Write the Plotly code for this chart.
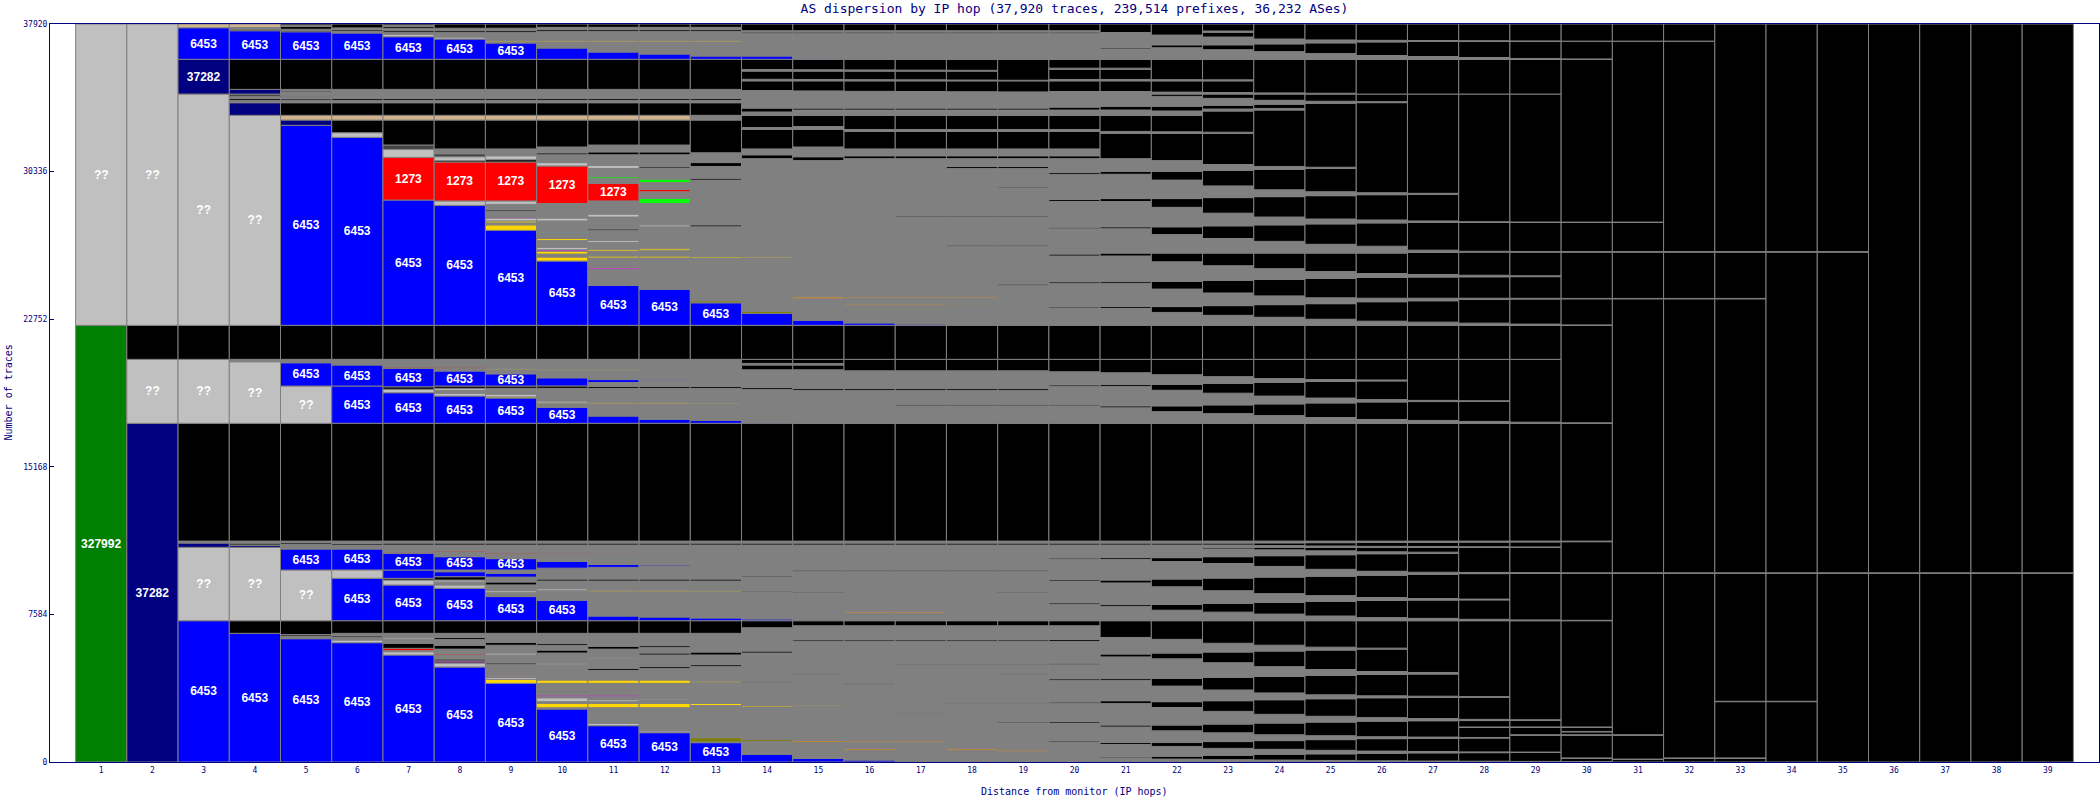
import plotly.graph_objects as go

# ---------------- data ----------------
hops = list(range(1, 40))
y_ticks = [0, 7584, 15168, 22752, 30336, 37920]
y_max = 37920
title_text = "AS dispersion by IP hop (37,920 traces, 239,514 prefixes, 36,232 ASes)"
x_title = "Distance from monitor (IP hops)"
y_title = "Number of traces"

palette = {
    'G': '#008000', 'N': '#000080', 'B': '#0000FF', 'Q': '#C0C0C0', 'K': '#000000',
    'D': '#808080', 'S': '#404040', 'R': '#FF0000', 'Y': '#FFD700', 'T': '#D2B48C',
    'O': '#FF8C00', 'L': '#00FF00', 'M': '#FF00FF', 'C': '#00FFFF', 'V': '#808000',
    'P': '#800080',
}

# each hop: list of (upper edge in traces, colour key[, AS label]) from bottom to top
hop01 = [(22437, 'G', '327992'), (37920, 'Q', '??')]
hop02 = [(17403, 'N', '37282'), (20690, 'Q', '??'), (22437, 'K'), (37920, 'Q', '??')]
hop03 = [(7260, 'B', '6453'), (11031, 'Q', '??'), (11252, 'N'), (11350, 'D'), (17403, 'K'),
         (20690, 'Q', '??'), (22437, 'K'), (34320, 'Q', '??'), (36105, 'N', '37282'),
         (37728, 'B', '6453'), (37920, 'T')]
hop04 = [(6611, 'B', '6453'), (7260, 'K'), (11031, 'Q', '??'), (11130, 'N'), (11250, 'S'), (11350, 'D'),
         (17403, 'K'), (20566, 'Q', '??'), (20690, 'D'), (22437, 'K'), (33228, 'Q', '??'), (33875, 'N'),
         (34000, 'D'), (34100, 'K'), (34200, 'D'), (34320, 'S'), (34560, 'N'), (36105, 'K'),
         (37574, 'B', '6453'), (37650, 'K'), (37740, 'D'), (37920, 'T')]
hop05 = [(6336, 'B', '6453'), (6450, 'D'), (6550, 'S'), (7260, 'K'), (9865, 'Q', '??'), (10944, 'B', '6453'),
         (11031, 'D'), (11200, 'D'), (11280, 'K'), (11350, 'D'), (17403, 'K'), (19318, 'Q', '??'),
         (20514, 'B', '6453'), (20690, 'D'), (22437, 'K'), (32713, 'B', '6453'), (32984, 'N'), (33228, 'T'),
         (33875, 'K'), (34000, 'D'), (34080, 'K'), (34200, 'D'), (34250, 'K'), (34320, 'D'), (34420, 'D'),
         (34480, 'K'), (34560, 'D'), (36105, 'K'), (37522, 'B', '6453'), (37600, 'K'), (37650, 'D'),
         (37800, 'K'), (37850, 'D'), (37920, 'K')]
hop06 = [(6130, 'B', '6453'), (6268, 'Q'), (6400, 'D'), (6480, 'K'), (6611, 'D'), (7260, 'K'),
         (9440, 'B', '6453'), (9870, 'Q'), (10944, 'B', '6453'), (11031, 'D'), (11150, 'D'), (11230, 'K'),
         (11350, 'D'), (17403, 'K'), (19318, 'B', '6453'), (20400, 'B', '6453'), (20690, 'D'), (22437, 'K'),
         (32096, 'B', '6453'), (32334, 'Q'), (32984, 'K'), (33228, 'T'), (33875, 'K'), (34000, 'D'),
         (34100, 'K'), (34320, 'D'), (34560, 'D'), (36105, 'K'), (37456, 'B', '6453'), (37560, 'D'),
         (37640, 'K'), (37720, 'D'), (37920, 'K')]
hop07 = [(5498, 'B', '6453'), (5667, 'Q'), (5720, 'D'), (5840, 'R'), (6100, 'K'), (6300, 'D'), (6380, 'Q'),
         (6611, 'D'), (7260, 'K'), (9094, 'B', '6453'), (9350, 'Q'), (9438, 'K'), (9865, 'B'),
         (10723, 'B', '6453'), (10780, 'R'), (11031, 'D'), (11150, 'D'), (11250, 'K'), (11350, 'D'),
         (17403, 'K'), (18975, 'B', '6453'), (19150, 'Q'), (19280, 'K'), (20228, 'B', '6453'), (20290, 'R'),
         (20690, 'D'), (22437, 'K'), (28874, 'B', '6453'), (31066, 'R', '1273'), (31480, 'Q'), (31701, 'S'),
         (32984, 'K'), (33228, 'T'), (33875, 'K'), (34000, 'D'), (34100, 'K'), (34320, 'D'), (34450, 'D'),
         (34500, 'K'), (34560, 'D'), (36105, 'K'), (37266, 'B', '6453'), (37389, 'Q'), (37500, 'D'),
         (37600, 'K'), (37700, 'D'), (37800, 'K'), (37850, 'D'), (37920, 'K')]
hop08 = [(4880, 'B', '6453'), (5087, 'Q'), (5190, 'P'), (5300, 'S'), (5500, 'D'), (5560, 'R'), (5800, 'D'),
         (6000, 'K'), (6300, 'D'), (6400, 'K'), (6611, 'D'), (7260, 'K'), (8925, 'B', '6453'), (9100, 'Q'),
         (9250, 'D'), (9350, 'Q'), (9520, 'K'), (9778, 'B'), (9865, 'D'), (10550, 'B', '6453'), (10800, 'D'),
         (10860, 'R'), (11031, 'D'), (11150, 'D'), (11250, 'K'), (11350, 'D'), (17403, 'K'),
         (18805, 'B', '6453'), (18950, 'Q'), (19100, 'D'), (19200, 'Q'), (19318, 'K'), (20089, 'B', '6453'),
         (20230, 'D'), (20290, 'R'), (20690, 'D'), (22437, 'K'), (28600, 'B', '6453'), (28830, 'Q'),
         (30828, 'R', '1273'), (30900, 'K'), (31100, 'Q'), (31250, 'S'), (31500, 'D'), (32984, 'K'),
         (33228, 'T'), (33875, 'K'), (34000, 'D'), (34100, 'K'), (34320, 'D'), (34450, 'D'), (34500, 'K'),
         (34560, 'D'), (36105, 'K'), (37148, 'B', '6453'), (37250, 'Q'), (37500, 'D'), (37600, 'K'),
         (37700, 'D'), (37920, 'K')]
hop09 = [(4043, 'B', '6453'), (4250, 'Y'), (4350, 'Q'), (4400, 'M'), (4700, 'D'), (4760, 'R'), (5000, 'D'),
         (5100, 'S'), (5500, 'D'), (5600, 'Q'), (6000, 'D'), (6150, 'K'), (6611, 'D'), (7260, 'K'),
         (8500, 'B', '6453'), (8700, 'D'), (8800, 'Q'), (9100, 'D'), (9250, 'K'), (9500, 'D'), (9700, 'B'),
         (9865, 'D'), (10450, 'B', '6453'), (10700, 'D'), (10760, 'R'), (11031, 'D'), (11150, 'D'),
         (11250, 'K'), (11350, 'D'), (17403, 'K'), (18700, 'B', '6453'), (18760, 'Y'), (18900, 'Q'),
         (19200, 'D'), (19318, 'K'), (19945, 'B', '6453'), (20150, 'D'), (20200, 'Y'), (20690, 'D'),
         (22437, 'K'), (27318, 'B', '6453'), (27600, 'Y'), (27700, 'D'), (27800, 'Y'), (27950, 'Q'),
         (28000, 'M'), (28300, 'D'), (28400, 'S'), (28650, 'D'), (28830, 'Q'), (30828, 'R', '1273'),
         (30950, 'K'), (31150, 'Q'), (31500, 'D'), (32984, 'K'), (33228, 'T'), (33875, 'K'), (34000, 'D'),
         (34100, 'K'), (34320, 'D'), (34450, 'D'), (34500, 'K'), (34560, 'D'), (36105, 'K'),
         (36942, 'B', '6453'), (37000, 'D'), (37060, 'Y'), (37500, 'D'), (37600, 'K'), (37700, 'D'),
         (37920, 'K')]
hop10 = [(2723, 'B', '6453'), (2790, 'D'), (3016, 'Y'), (3100, 'D'), (3300, 'Q'), (3355, 'D'), (3440, 'M'),
         (3600, 'D'), (3650, 'S'), (4040, 'D'), (4213, 'Y'), (4600, 'D'), (4650, 'R'), (5000, 'D'),
         (5080, 'Q'), (5600, 'D'), (5750, 'K'), (6000, 'D'), (6100, 'K'), (6611, 'D'), (7260, 'K'),
         (8313, 'B', '6453'), (8500, 'D'), (8560, 'Y'), (8800, 'D'), (8900, 'Q'), (9300, 'D'), (9400, 'K'),
         (9960, 'D'), (10306, 'B'), (10700, 'D'), (10750, 'R'), (11031, 'D'), (11150, 'D'), (11250, 'K'),
         (11350, 'D'), (17403, 'K'), (18224, 'B', '6453'), (18400, 'D'), (18450, 'Y'), (18550, 'Q'),
         (19200, 'D'), (19324, 'K'), (19740, 'B'), (20100, 'D'), (20150, 'Y'), (20690, 'D'), (22437, 'K'),
         (25740, 'B', '6453'), (25950, 'Y'), (26100, 'D'), (26250, 'Y'), (26320, 'M'), (26450, 'Q'),
         (26800, 'D'), (26900, 'Y'), (27200, 'D'), (27250, 'C'), (27800, 'D'), (27950, 'Q'), (28696, 'D'),
         (30622, 'R', '1273'), (30800, 'Q'), (31200, 'D'), (31300, 'K'), (31600, 'D'), (32984, 'K'),
         (33228, 'T'), (33875, 'K'), (34000, 'D'), (34100, 'K'), (34320, 'D'), (34450, 'D'), (34500, 'K'),
         (34560, 'D'), (36105, 'K'), (36685, 'B'), (37000, 'D'), (37060, 'Y'), (37550, 'D'), (37650, 'K'),
         (37750, 'D'), (37920, 'K')]
hop11 = [(1866, 'B', '6453'), (1990, 'Q'), (2030, 'D'), (2080, 'M'), (2130, 'D'), (2180, 'C'), (2390, 'D'),
         (2440, 'S'), (2790, 'D'), (3016, 'Y'), (3100, 'D'), (3200, 'Q'), (3355, 'D'), (3440, 'M'),
         (4040, 'D'), (4213, 'Y'), (4700, 'D'), (4800, 'K'), (5300, 'D'), (5350, 'Q'), (5800, 'D'),
         (5950, 'K'), (6611, 'D'), (7260, 'K'), (7500, 'B'), (8400, 'D'), (8460, 'M'), (8750, 'D'),
         (8830, 'Y'), (9300, 'D'), (9400, 'K'), (10000, 'D'), (10150, 'B'), (10700, 'D'), (10740, 'R'),
         (11031, 'D'), (11150, 'D'), (11250, 'K'), (11350, 'D'), (17403, 'K'), (17775, 'B'), (18400, 'D'),
         (18460, 'Y'), (19200, 'D'), (19300, 'K'), (19500, 'D'), (19650, 'B'), (20100, 'D'), (20150, 'Y'),
         (20690, 'D'), (22437, 'K'), (24488, 'B', '6453'), (25300, 'D'), (25390, 'M'), (25900, 'D'),
         (26000, 'Y'), (26250, 'D'), (26350, 'Y'), (26700, 'D'), (26800, 'Q'), (27300, 'D'), (27400, 'S'),
         (28000, 'D'), (28150, 'Q'), (28830, 'D'), (29730, 'R', '1273'), (30000, 'D'), (30080, 'L'),
         (30500, 'D'), (30650, 'Q'), (31200, 'D'), (31350, 'K'), (31700, 'D'), (32984, 'K'), (33228, 'T'),
         (33875, 'K'), (34000, 'D'), (34100, 'K'), (34320, 'D'), (34450, 'D'), (34500, 'K'), (34560, 'D'),
         (36105, 'K'), (36480, 'B'), (37000, 'D'), (37060, 'Y'), (37550, 'D'), (37650, 'K'), (37750, 'D'),
         (37920, 'K')]
hop12 = [(1507, 'B', '6453'), (1593, 'Q'), (2030, 'D'), (2080, 'M'), (2130, 'D'), (2180, 'C'), (2390, 'D'),
         (2440, 'S'), (2790, 'D'), (3016, 'Y'), (3200, 'D'), (3260, 'Q'), (4040, 'D'), (4213, 'Y'),
         (4800, 'D'), (4900, 'K'), (5500, 'D'), (5600, 'K'), (5900, 'D'), (6000, 'K'), (6611, 'D'),
         (7260, 'K'), (7450, 'B'), (8750, 'D'), (8830, 'Y'), (9300, 'D'), (9400, 'K'), (10050, 'D'),
         (10120, 'B'), (11031, 'D'), (11150, 'D'), (11250, 'K'), (11350, 'D'), (17403, 'K'), (17600, 'B'),
         (18400, 'D'), (18460, 'Y'), (19200, 'D'), (19300, 'K'), (19550, 'D'), (19620, 'B'), (20690, 'D'),
         (22437, 'K'), (24282, 'B', '6453'), (25300, 'D'), (25360, 'M'), (25900, 'D'), (26000, 'Y'),
         (26300, 'D'), (26400, 'Y'), (27500, 'D'), (27600, 'Q'), (28700, 'D'), (28963, 'L'), (29300, 'D'),
         (29420, 'R'), (29780, 'D'), (29950, 'L'), (30500, 'D'), (30600, 'S'), (31200, 'D'), (31350, 'K'),
         (31700, 'D'), (32984, 'K'), (33228, 'T'), (33875, 'K'), (34000, 'D'), (34100, 'K'), (34320, 'D'),
         (34450, 'D'), (34500, 'K'), (34560, 'D'), (36105, 'K'), (36377, 'B'), (37000, 'D'), (37060, 'Y'),
         (37550, 'D'), (37650, 'K'), (37750, 'D'), (37920, 'K')]
hop13 = [(993, 'B', '6453'), (1028, 'D'), (1249, 'V'), (2400, 'D'), (2440, 'S'), (2900, 'D'), (3016, 'Y'),
         (4100, 'D'), (4160, 'Y'), (4900, 'D'), (5000, 'K'), (5500, 'D'), (5650, 'K'), (6611, 'D'),
         (7260, 'K'), (7400, 'B'), (8750, 'D'), (8820, 'Y'), (9300, 'D'), (9400, 'K'), (11031, 'D'),
         (11150, 'D'), (11250, 'K'), (11350, 'D'), (17403, 'K'), (17550, 'B'), (18400, 'D'), (18450, 'Y'),
         (19200, 'D'), (19300, 'K'), (20690, 'D'), (22437, 'K'), (23594, 'B', '6453'), (23700, 'V'),
         (25900, 'D'), (25980, 'Y'), (27500, 'D'), (27600, 'K'), (28800, 'D'), (28850, 'L'), (29900, 'D'),
         (30000, 'K'), (30600, 'D'), (30800, 'K'), (31300, 'D'), (32984, 'K'), (33228, 'D'), (33875, 'K'),
         (34000, 'D'), (34100, 'K'), (34320, 'D'), (34450, 'D'), (34500, 'K'), (34560, 'D'), (36105, 'K'),
         (36274, 'B'), (37000, 'D'), (37060, 'Y'), (37550, 'D'), (37650, 'K'), (37750, 'D'), (37920, 'K')]
hop14 = [(400, 'B'), (1050, 'D'), (1150, 'V'), (2830, 'D'), (2900, 'Y'), (4100, 'D'), (4150, 'K'),
         (5600, 'D'), (5700, 'K'), (6900, 'D'), (7260, 'K'), (7350, 'B'), (8750, 'D'), (8800, 'K'),
         (9500, 'D'), (9560, 'K'), (11031, 'D'), (11150, 'D'), (11250, 'K'), (11350, 'D'), (17403, 'K'),
         (17450, 'B'), (19150, 'D'), (19250, 'K'), (20150, 'D'), (20400, 'K'), (20480, 'D'), (20690, 'K'),
         (22437, 'K'), (23044, 'B'), (23150, 'V'), (25900, 'D'), (25960, 'Y'), (31000, 'D'), (31200, 'K'),
         (31500, 'D'), (32500, 'K'), (32600, 'D'), (33228, 'K'), (33400, 'D'), (33600, 'K'), (34320, 'D'),
         (34500, 'D'), (35000, 'K'), (35080, 'D'), (35500, 'K'), (35580, 'D'), (36105, 'K'), (36274, 'B'),
         (37450, 'D'), (37510, 'K'), (37574, 'D'), (37920, 'K')]
hop15 = [(180, 'B'), (1000, 'D'), (1090, 'O'), (2850, 'D'), (2920, 'Y'), (4500, 'D'), (4560, 'K'),
         (6200, 'D'), (6280, 'K'), (7000, 'D'), (7260, 'K'), (7300, 'B'), (8700, 'D'), (8760, 'K'),
         (9800, 'D'), (9860, 'K'), (11031, 'D'), (11150, 'D'), (11250, 'K'), (11350, 'D'), (17403, 'K'),
         (19100, 'D'), (19200, 'K'), (20150, 'D'), (20400, 'K'), (20470, 'D'), (20690, 'K'), (22437, 'K'),
         (22700, 'B'), (23800, 'D'), (23900, 'O'), (30900, 'D'), (31100, 'K'), (31600, 'D'), (32500, 'K'),
         (32650, 'D'), (33228, 'K'), (33500, 'D'), (33600, 'K'), (34320, 'D'), (34480, 'D'), (35000, 'K'),
         (35070, 'D'), (35500, 'K'), (35570, 'D'), (36105, 'K'), (36157, 'B'), (37450, 'D'), (37510, 'K'),
         (37574, 'D'), (37920, 'K')]
hop16 = [(100, 'B'), (600, 'D'), (680, 'O'), (1000, 'D'), (1080, 'O'), (4000, 'D'), (4050, 'K'),
         (6200, 'D'), (6280, 'K'), (7000, 'D'), (7260, 'K'), (7650, 'D'), (7720, 'O'), (9800, 'D'),
         (9860, 'K'), (11031, 'D'), (11150, 'D'), (11250, 'K'), (11350, 'D'), (17403, 'K'), (19100, 'D'),
         (19200, 'K'), (20100, 'D'), (20690, 'K'), (22437, 'K'), (22560, 'B'), (23450, 'D'), (23530, 'O'),
         (23850, 'D'), (23930, 'O'), (31000, 'D'), (31150, 'K'), (31500, 'D'), (32400, 'K'), (32500, 'D'),
         (33228, 'K'), (33500, 'D'), (33600, 'K'), (34320, 'D'), (34460, 'D'), (35000, 'K'), (35060, 'D'),
         (35500, 'K'), (35560, 'D'), (36105, 'K'), (37450, 'D'), (37510, 'K'), (37574, 'D'), (37920, 'K')]
hop17 = [(1000, 'D'), (1080, 'O'), (2500, 'D'), (2550, 'K'), (5000, 'D'), (5050, 'K'), (6200, 'D'),
         (6280, 'K'), (7000, 'D'), (7260, 'K'), (7650, 'D'), (7720, 'O'), (9800, 'D'), (9860, 'K'),
         (11031, 'D'), (11150, 'D'), (11250, 'K'), (11350, 'D'), (17403, 'K'), (18300, 'D'), (18380, 'K'),
         (19100, 'D'), (19200, 'K'), (20100, 'D'), (20690, 'K'), (22437, 'K'), (22500, 'B'), (23450, 'D'),
         (23530, 'O'), (23850, 'D'), (23930, 'O'), (28000, 'D'), (28060, 'K'), (31000, 'D'), (31150, 'K'),
         (31500, 'D'), (32400, 'K'), (32500, 'D'), (33228, 'K'), (33500, 'D'), (33600, 'K'), (34320, 'D'),
         (34450, 'D'), (35000, 'K'), (35050, 'D'), (35500, 'K'), (35550, 'D'), (36105, 'K'), (37450, 'D'),
         (37510, 'K'), (37574, 'D'), (37920, 'K')]
hop18 = [(600, 'D'), (680, 'O'), (1050, 'D'), (1100, 'O'), (3000, 'D'), (3060, 'K'), (5000, 'D'),
         (5050, 'K'), (6200, 'D'), (6280, 'K'), (7000, 'D'), (7260, 'K'), (9800, 'D'), (9860, 'K'),
         (11031, 'D'), (11150, 'D'), (11250, 'K'), (11350, 'D'), (17403, 'K'), (18300, 'D'), (18380, 'K'),
         (19100, 'D'), (19200, 'K'), (20100, 'D'), (20690, 'K'), (22437, 'K'), (23450, 'D'), (23510, 'O'),
         (23850, 'D'), (23920, 'O'), (26500, 'D'), (26560, 'K'), (28000, 'D'), (28060, 'K'), (30500, 'D'),
         (30600, 'K'), (31000, 'D'), (31150, 'K'), (31500, 'D'), (32400, 'K'), (32500, 'D'), (33228, 'K'),
         (33500, 'D'), (33600, 'K'), (34320, 'D'), (34440, 'D'), (35000, 'K'), (35040, 'D'), (35500, 'K'),
         (35540, 'D'), (36105, 'K'), (37450, 'D'), (37510, 'K'), (37574, 'D'), (37920, 'K')]
hop19 = [(550, 'D'), (620, 'O'), (2000, 'D'), (2060, 'K'), (3000, 'D'), (3060, 'K'), (4500, 'D'),
         (4560, 'K'), (5000, 'D'), (5050, 'K'), (6200, 'D'), (6280, 'K'), (7000, 'D'), (7260, 'K'),
         (8700, 'D'), (8760, 'K'), (9800, 'D'), (9860, 'K'), (11031, 'D'), (11150, 'D'), (11250, 'K'),
         (11350, 'D'), (17403, 'K'), (18300, 'D'), (18380, 'K'), (19100, 'D'), (19200, 'K'), (20100, 'D'),
         (20690, 'K'), (22437, 'K'), (23450, 'D'), (23500, 'O'), (24500, 'D'), (24560, 'K'), (26500, 'D'),
         (26560, 'K'), (28000, 'D'), (28060, 'K'), (29500, 'D'), (29560, 'K'), (30500, 'D'), (30600, 'K'),
         (31000, 'D'), (31150, 'K'), (31500, 'D'), (32400, 'K'), (32500, 'D'), (33228, 'K'), (33500, 'D'),
         (33600, 'K'), (34320, 'D'), (34430, 'D'), (35000, 'K'), (35030, 'D'), (36105, 'K'), (37450, 'D'),
         (37510, 'K'), (37574, 'D'), (37920, 'K')]
hop20 = [(1000, 'D'), (1080, 'K'), (2000, 'D'), (2080, 'K'), (3000, 'D'), (3080, 'K'), (4200, 'D'),
         (4280, 'K'), (5000, 'D'), (5080, 'K'), (6200, 'D'), (6300, 'K'), (7000, 'D'), (7260, 'K'),
         (8100, 'D'), (8180, 'K'), (9300, 'D'), (9380, 'K'), (10400, 'D'), (10480, 'K'), (11031, 'D'),
         (11150, 'D'), (11250, 'K'), (11350, 'D'), (17403, 'K'), (18300, 'D'), (18380, 'K'), (19300, 'D'),
         (19380, 'K'), (20050, 'D'), (20690, 'K'), (22437, 'K'), (23300, 'D'), (23380, 'K'), (24600, 'D'),
         (24680, 'K'), (26000, 'D'), (26100, 'K'), (27400, 'D'), (27480, 'K'), (28800, 'D'), (28900, 'K'),
         (30200, 'D'), (30300, 'K'), (31000, 'D'), (31150, 'K'), (31500, 'D'), (32400, 'K'), (32500, 'D'),
         (33228, 'K'), (33500, 'D'), (33650, 'K'), (34320, 'D'), (34450, 'D'), (35000, 'K'), (35070, 'D'),
         (35600, 'K'), (35650, 'D'), (36105, 'K'), (37450, 'D'), (37510, 'K'), (37574, 'D'), (37920, 'K')]
hop21 = [(200, 'D'), (260, 'K'), (900, 'D'), (1000, 'K'), (1800, 'D'), (1900, 'K'), (3000, 'D'),
         (3150, 'K'), (4200, 'D'), (4300, 'K'), (5400, 'D'), (5550, 'K'), (6400, 'D'), (7260, 'K'),
         (8000, 'D'), (8100, 'K'), (9200, 'D'), (9350, 'K'), (10400, 'D'), (10500, 'K'), (11031, 'D'),
         (11150, 'D'), (11250, 'K'), (11350, 'D'), (17403, 'K'), (18200, 'D'), (18300, 'K'), (19300, 'D'),
         (19400, 'K'), (20000, 'D'), (20690, 'K'), (22437, 'K'), (23300, 'D'), (23400, 'K'), (24600, 'D'),
         (24700, 'K'), (26000, 'D'), (26150, 'K'), (27400, 'D'), (27500, 'K'), (28800, 'D'), (28950, 'K'),
         (30200, 'D'), (30350, 'K'), (31000, 'D'), (32300, 'K'), (32400, 'D'), (33228, 'K'), (33500, 'D'),
         (33700, 'K'), (34320, 'D'), (34450, 'D'), (35000, 'K'), (35070, 'D'), (35600, 'K'), (35650, 'D'),
         (36105, 'K'), (36634, 'D'), (36700, 'K'), (37480, 'D'), (37920, 'K')]
hop22 = [(150, 'D'), (300, 'K'), (800, 'D'), (1000, 'K'), (1600, 'D'), (1900, 'K'), (2800, 'D'),
         (3100, 'K'), (3900, 'D'), (4300, 'K'), (5300, 'D'), (5600, 'K'), (6300, 'D'), (7260, 'K'),
         (7800, 'D'), (8100, 'K'), (9000, 'D'), (9400, 'K'), (10300, 'D'), (10500, 'K'), (11031, 'D'),
         (11150, 'D'), (11250, 'K'), (11350, 'D'), (17403, 'K'), (18000, 'D'), (18300, 'K'), (19100, 'D'),
         (19400, 'K'), (19900, 'D'), (20690, 'K'), (22437, 'K'), (23100, 'D'), (23400, 'K'), (24300, 'D'),
         (24700, 'K'), (25700, 'D'), (26150, 'K'), (27100, 'D'), (27500, 'K'), (28500, 'D'), (28950, 'K'),
         (29900, 'D'), (30350, 'K'), (30900, 'D'), (32300, 'K'), (32380, 'D'), (33228, 'K'), (33450, 'D'),
         (33700, 'K'), (34200, 'D'), (34320, 'K'), (34420, 'D'), (35000, 'K'), (35060, 'D'), (36105, 'K'),
         (36700, 'D'), (36850, 'K'), (37350, 'D'), (37920, 'K')]
hop23 = [(120, 'D'), (350, 'K'), (700, 'D'), (1050, 'K'), (1500, 'D'), (1950, 'K'), (2600, 'D'),
         (3150, 'K'), (3700, 'D'), (4350, 'K'), (5100, 'D'), (5650, 'K'), (6100, 'D'), (7260, 'K'),
         (7700, 'D'), (8150, 'K'), (8800, 'D'), (9450, 'K'), (10200, 'D'), (10550, 'K'), (10950, 'D'),
         (11031, 'K'), (11150, 'D'), (11250, 'K'), (11350, 'D'), (17403, 'K'), (17900, 'D'), (18350, 'K'),
         (18950, 'D'), (19450, 'K'), (19800, 'D'), (20690, 'K'), (22437, 'K'), (22950, 'D'), (23450, 'K'),
         (24100, 'D'), (24750, 'K'), (25500, 'D'), (26150, 'K'), (26900, 'D'), (27550, 'K'), (28200, 'D'),
         (29000, 'K'), (29600, 'D'), (30400, 'K'), (30700, 'D'), (32300, 'K'), (32360, 'D'), (33450, 'K'),
         (33550, 'D'), (33750, 'K'), (34100, 'D'), (34320, 'K'), (34400, 'D'), (35000, 'K'), (35050, 'D'),
         (36105, 'K'), (36600, 'D'), (36850, 'K'), (37250, 'D'), (37500, 'K'), (37560, 'D'), (37920, 'K')]
hop24 = [(100, 'D'), (400, 'K'), (650, 'D'), (1100, 'K'), (1400, 'D'), (2000, 'K'), (2450, 'D'),
         (3200, 'K'), (3550, 'D'), (4400, 'K'), (4900, 'D'), (5700, 'K'), (6000, 'D'), (7260, 'K'),
         (7600, 'D'), (8200, 'K'), (8650, 'D'), (9500, 'K'), (10050, 'D'), (10600, 'K'), (10900, 'D'),
         (11031, 'K'), (11120, 'D'), (11260, 'K'), (11350, 'D'), (17403, 'K'), (17800, 'D'), (18400, 'K'),
         (18800, 'D'), (19500, 'K'), (19700, 'D'), (20690, 'K'), (22437, 'K'), (22850, 'D'), (23500, 'K'),
         (23950, 'D'), (24800, 'K'), (25350, 'D'), (26150, 'K'), (26750, 'D'), (27600, 'K'), (28000, 'D'),
         (29050, 'K'), (29400, 'D'), (30450, 'K'), (30600, 'D'), (33500, 'K'), (33580, 'D'), (33800, 'K'),
         (34000, 'D'), (34320, 'K'), (34380, 'D'), (36105, 'K'), (36500, 'D'), (36900, 'K'), (37150, 'D'),
         (37920, 'K')]
hop25 = [(80, 'D'), (420, 'K'), (600, 'D'), (1150, 'K'), (1350, 'D'), (2050, 'K'), (2350, 'D'),
         (3250, 'K'), (3450, 'D'), (4450, 'K'), (4750, 'D'), (5750, 'K'), (5900, 'D'), (7260, 'K'),
         (7500, 'D'), (8250, 'K'), (8550, 'D'), (9550, 'K'), (9900, 'D'), (10650, 'K'), (10850, 'D'),
         (11031, 'K'), (11100, 'D'), (11270, 'K'), (11350, 'D'), (17403, 'K'), (17700, 'D'), (18450, 'K'),
         (18700, 'D'), (19550, 'K'), (19650, 'D'), (20690, 'K'), (22437, 'K'), (22750, 'D'), (23550, 'K'),
         (23850, 'D'), (24850, 'K'), (25200, 'D'), (26150, 'K'), (26600, 'D'), (27650, 'K'), (27900, 'D'),
         (29100, 'K'), (29300, 'D'), (30500, 'K'), (30560, 'D'), (33850, 'K'), (33950, 'D'), (34320, 'K'),
         (34360, 'D'), (36105, 'K'), (36400, 'D'), (36950, 'K'), (37100, 'D'), (37920, 'K')]
hop26 = [(60, 'D'), (450, 'K'), (560, 'D'), (1200, 'K'), (1300, 'D'), (2100, 'K'), (2280, 'D'),
         (3300, 'K'), (3400, 'D'), (4500, 'K'), (4650, 'D'), (5800, 'K'), (5850, 'D'), (7260, 'K'),
         (7420, 'D'), (8300, 'K'), (8450, 'D'), (9600, 'K'), (9800, 'D'), (10700, 'K'), (10800, 'D'),
         (11031, 'K'), (11080, 'D'), (11280, 'K'), (11350, 'D'), (17403, 'K'), (17600, 'D'), (18500, 'K'),
         (18620, 'D'), (19580, 'K'), (19630, 'D'), (20690, 'K'), (22437, 'K'), (22650, 'D'), (23650, 'K'),
         (23830, 'D'), (24900, 'K'), (25100, 'D'), (26150, 'K'), (26500, 'D'), (27700, 'K'), (27850, 'D'),
         (29150, 'K'), (29250, 'D'), (33880, 'K'), (33930, 'D'), (34320, 'K'), (36105, 'K'), (36300, 'D'),
         (37000, 'K'), (37080, 'D'), (37920, 'K')]
hop27 = [(50, 'D'), (470, 'K'), (540, 'D'), (1220, 'K'), (1280, 'D'), (2120, 'K'), (2230, 'D'),
         (3320, 'K'), (3380, 'D'), (4520, 'K'), (4600, 'D'), (7260, 'K'), (7380, 'D'), (8320, 'K'),
         (8400, 'D'), (9650, 'K'), (9750, 'D'), (10720, 'K'), (10780, 'D'), (11031, 'K'), (11070, 'D'),
         (11290, 'K'), (11350, 'D'), (17403, 'K'), (17550, 'D'), (18520, 'K'), (18580, 'D'), (20690, 'K'),
         (22437, 'K'), (22600, 'D'), (23700, 'K'), (23830, 'D'), (24920, 'K'), (25050, 'D'), (26180, 'K'),
         (26300, 'D'), (27720, 'K'), (27800, 'D'), (29170, 'K'), (29220, 'D'), (34320, 'K'), (36105, 'K'),
         (36250, 'D'), (37020, 'K'), (37070, 'D'), (37920, 'K')]
hop28 = [(40, 'D'), (480, 'K'), (520, 'D'), (1230, 'K'), (1260, 'D'), (1780, 'K'), (1800, 'D'),
         (2130, 'K'), (2190, 'D'), (3330, 'K'), (3360, 'D'), (7260, 'K'), (7330, 'D'), (8330, 'K'),
         (8370, 'D'), (9680, 'K'), (9740, 'D'), (11031, 'K'), (11060, 'D'), (11300, 'K'), (11350, 'D'),
         (17403, 'K'), (17500, 'D'), (18530, 'K'), (18560, 'D'), (20690, 'K'), (22437, 'K'), (22550, 'D'),
         (23780, 'K'), (23830, 'D'), (24930, 'K'), (25010, 'D'), (26200, 'K'), (26240, 'D'), (27720, 'K'),
         (27760, 'D'), (34320, 'K'), (36105, 'K'), (36200, 'D'), (37020, 'K'), (37060, 'D'), (37920, 'K')]
hop29 = [(30, 'D'), (490, 'K'), (510, 'D'), (1380, 'K'), (1400, 'D'), (1780, 'K'), (1800, 'D'),
         (2140, 'K'), (2170, 'D'), (7260, 'K'), (7300, 'D'), (9690, 'K'), (9730, 'D'), (11031, 'K'),
         (11050, 'D'), (11310, 'K'), (11350, 'D'), (17403, 'K'), (17460, 'D'), (20690, 'K'), (22437, 'K'),
         (22500, 'D'), (23790, 'K'), (23825, 'D'), (24940, 'K'), (24980, 'D'), (26200, 'K'), (26225, 'D'),
         (27720, 'K'), (27745, 'D'), (34320, 'K'), (36105, 'K'), (36150, 'D'), (37020, 'K'), (37050, 'D'),
         (37920, 'K')]
hop30 = [(20, 'D'), (190, 'K'), (210, 'D'), (1380, 'K'), (1400, 'D'), (1550, 'K'), (1570, 'D'),
         (1780, 'K'), (1800, 'D'), (7260, 'K'), (7280, 'D'), (9700, 'K'), (9720, 'D'), (11320, 'K'),
         (11350, 'D'), (17403, 'K'), (17425, 'D'), (22437, 'K'), (22460, 'D'), (23800, 'K'), (23820, 'D'),
         (26200, 'K'), (26225, 'D'), (27720, 'K'), (27740, 'D'), (36105, 'K'), (36125, 'D'), (37020, 'K'),
         (37040, 'D'), (37920, 'K')]
hop31 = [(130, 'K'), (150, 'D'), (1380, 'K'), (1400, 'D'), (9700, 'K'), (9720, 'D'), (23800, 'K'),
         (23820, 'D'), (26200, 'K'), (26225, 'D'), (27720, 'K'), (27740, 'D'), (37020, 'K'), (37040, 'D'),
         (37920, 'K')]
hop32 = [(190, 'K'), (210, 'D'), (9700, 'K'), (9720, 'D'), (23800, 'K'), (23820, 'D'), (26200, 'K'),
         (26225, 'D'), (37020, 'K'), (37040, 'D'), (37920, 'K')]
hop33 = [(190, 'K'), (210, 'D'), (3100, 'K'), (3120, 'D'), (9700, 'K'), (9720, 'D'), (23800, 'K'),
         (23820, 'D'), (26200, 'K'), (26225, 'D'), (37920, 'K')]
hop34 = [(3100, 'K'), (3120, 'D'), (9700, 'K'), (9720, 'D'), (26200, 'K'), (26225, 'D'), (37920, 'K')]
hop35 = [(9700, 'K'), (9720, 'D'), (26200, 'K'), (26225, 'D'), (37920, 'K')]
hop36 = [(9700, 'K'), (9720, 'D'), (37920, 'K')]
hop37 = [(9700, 'K'), (9720, 'D'), (37920, 'K')]
hop38 = [(9700, 'K'), (9720, 'D'), (37920, 'K')]
hop39 = [(9700, 'K'), (9720, 'D'), (37920, 'K')]

hop_segments = [hop01, hop02, hop03, hop04, hop05, hop06, hop07, hop08, hop09, hop10,
                hop11, hop12, hop13, hop14, hop15, hop16, hop17, hop18, hop19, hop20,
                hop21, hop22, hop23, hop24, hop25, hop26, hop27, hop28, hop29, hop30,
                hop31, hop32, hop33, hop34, hop35, hop36, hop37, hop38, hop39]

# ---------------- build the bar table ----------------
xs, bases, heights, colors, labels = [], [], [], [], []
for hop, segs in zip(hops, hop_segments):
    prev = 0
    for seg in segs:
        top, key = seg[0], seg[1]
        xs.append(hop)
        bases.append(prev)
        heights.append(top - prev)
        colors.append(palette[key])
        labels.append(seg[2] if len(seg) > 2 else '')
        prev = top

NAVY = '#000080'
MONO = 'DejaVu Sans Mono'

fig = go.Figure()
fig.add_trace(go.Bar(
    x=xs, y=heights, base=bases, width=1,
    marker=dict(color=colors, line=dict(color='#808080', width=1)),
    text=labels, textposition='inside', insidetextanchor='middle', textangle=0,
    textfont=dict(family='Liberation Sans', size=12, color='white', weight='bold'),
    hoverinfo='skip', showlegend=False,
))

fig.update_layout(
    width=2100, height=800,
    margin=dict(l=50, r=1, t=24, b=38, pad=0),
    paper_bgcolor='white', plot_bgcolor='white',
    barmode='overlay',
    uniformtext=dict(minsize=12, mode='show'),
    title=dict(text=title_text, x=0.5, xref='paper', xanchor='center',
               y=1 - 8 / 800, yref='container', yanchor='middle',
               font=dict(family=MONO, size=13, color=NAVY)),
    xaxis=dict(range=[0, 40], tickvals=hops, ticktext=[str(h) for h in hops],
               showgrid=False, zeroline=False, showline=True, linecolor=NAVY, linewidth=1,
               mirror=True, ticks='', tickfont=dict(family=MONO, size=8, color=NAVY)),
    yaxis=dict(range=[0, y_max], tickvals=y_ticks, ticktext=[str(v) for v in y_ticks],
               showgrid=False, zeroline=False, showline=True, linecolor=NAVY, linewidth=1,
               mirror=True, ticks='inside', ticklen=4, tickcolor=NAVY,
               tickfont=dict(family=MONO, size=8, color=NAVY)),
    annotations=[
        dict(text=x_title, xref='paper', yref='paper', x=0.5, y=0, yshift=-29,
             xanchor='center', yanchor='middle', showarrow=False,
             font=dict(family=MONO, size=10, color=NAVY)),
        dict(text=y_title, xref='paper', yref='paper', x=0, y=0.5, xshift=-42.5,
             xanchor='center', yanchor='middle', textangle=-90, showarrow=False,
             font=dict(family=MONO, size=10, color=NAVY)),
    ],
)

fig.write_html(
    "out.html",
    config={'displayModeBar': False},
    post_script="document.body.style.margin='0px';document.body.style.padding='0px';"
                "document.documentElement.style.overflow='hidden';",
)
